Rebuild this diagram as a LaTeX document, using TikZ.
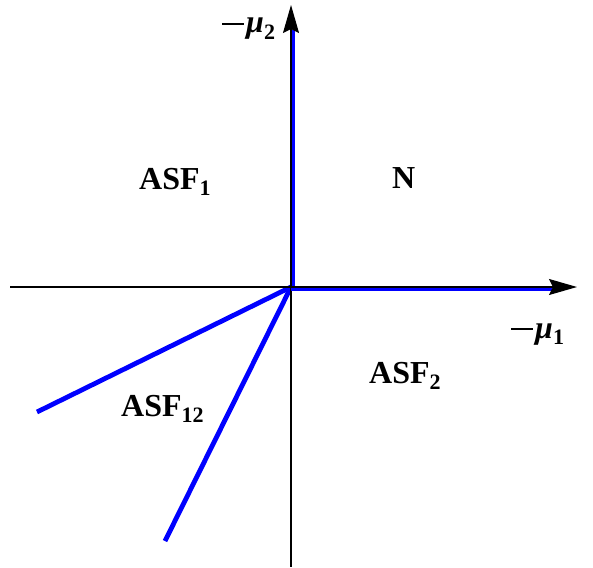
\documentclass[tikz,border=0pt]{standalone}
\usepackage{fontspec}
\setmainfont{Liberation Serif}
\usepackage{tikz}
\usetikzlibrary{
    arrows.meta,
    positioning,
    calc
}
\definecolor{Cregion}{RGB}{0, 0, 255}
\tikzset{
    axisline/.style={line width=1.3pt, black,
        -{Stealth[length=28pt, width=16pt, inset=4pt]}},
    rayline/.style={line width=4.8pt, Cregion},
    rlabel/.style={font=\fontsize{32}{34}\selectfont\bfseries, inner sep=0pt, anchor=base west},
}
\newcommand{\lsub}[1]{\raisebox{-0.2em}{\fontsize{22}{24}\selectfont #1}}
\newcommand{\negsign}{\raisebox{0.25em}{\rule{22pt}{2.4pt}}\hspace{2pt}}

\begin{document}
\begin{tikzpicture}[x=1pt, y=-1pt]
    \useasboundingbox (0,0) rectangle (593,567);

    % origin and axis ends
    \coordinate (O) at (291,287);
    \coordinate (xl) at (10,287);
    \coordinate (xr) at (577,287);
    \coordinate (yb) at (291,567);
    \coordinate (yt) at (291,5);

    % blue boundaries
    \coordinate (bx) at (552,289);
    \coordinate (by) at (293,30);
    \coordinate (r1) at (37,412);
    \coordinate (r2) at (165,541);

    \draw [rayline] (O) -- (r1);
    \draw [rayline] (O) -- (r2);
    \draw [line width=1.3pt] (xl) -- (O);
    \draw [line width=1.3pt] (O) -- (yb);
    \draw [rayline] ($(O)+(2,0)$) -- (by);
    \draw [rayline] ($(O)+(0,2)$) -- (bx);
    \draw [axisline] (O) -- (xr);
    \draw [axisline] (O) -- (yt);

    % region labels
    \node [rlabel] (asf1) at (139,189) {ASF\lsub{1}};
    \node [rlabel] (nreg) at (392,188) {N};
    \node [rlabel] (asf2) at (369,383) {ASF\lsub{2}};
    \node [rlabel] (asf12) at (121,416) {ASF\lsub{12}};

    % axis labels
    \node [rlabel] (mu2) at (222,33) {\negsign\textit{μ}\lsub{2}};
    \node [rlabel] (mu1) at (511,338) {\negsign\textit{μ}\lsub{1}};
\end{tikzpicture}
\end{document}
